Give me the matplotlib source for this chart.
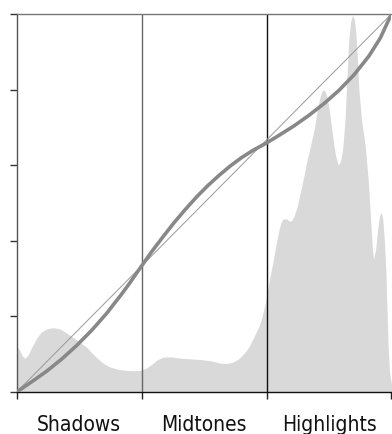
import matplotlib
matplotlib.use("Agg")
import matplotlib.pyplot as plt
from matplotlib import font_manager

# ---- data ----
hist_x = [0.0, 0.008, 0.015, 0.022, 0.03, 0.04, 0.053, 0.065, 0.08, 0.098,
          0.115, 0.13, 0.142, 0.16, 0.175, 0.187, 0.2, 0.212, 0.222, 0.235,
          0.249, 0.27, 0.293, 0.315, 0.329, 0.345, 0.36, 0.375, 0.39, 0.41,
          0.44, 0.49, 0.52, 0.54, 0.557, 0.575, 0.59, 0.60, 0.61, 0.62,
          0.63, 0.64, 0.647, 0.655, 0.664, 0.673, 0.683, 0.692, 0.70, 0.705,
          0.711, 0.72, 0.727, 0.733, 0.74, 0.748, 0.755, 0.765, 0.775, 0.782,
          0.794, 0.802, 0.808, 0.813, 0.818, 0.823, 0.828, 0.834, 0.84, 0.846,
          0.852, 0.858, 0.864, 0.87, 0.876, 0.881, 0.886, 0.891, 0.896, 0.901,
          0.905, 0.909, 0.913, 0.92, 0.93, 0.938, 0.944, 0.949, 0.952, 0.958,
          0.963, 0.968, 0.973, 0.977, 0.981, 0.985, 0.988, 0.991, 0.995, 1.0]
hist_y = [0.122, 0.11, 0.095, 0.089, 0.097, 0.118, 0.142, 0.158, 0.167, 0.170,
          0.167, 0.158, 0.150, 0.138, 0.127, 0.118, 0.104, 0.092, 0.083, 0.073,
          0.066, 0.060, 0.057, 0.056, 0.057, 0.063, 0.073, 0.085, 0.092, 0.093,
          0.089, 0.086, 0.082, 0.077, 0.075, 0.078, 0.086, 0.095, 0.106, 0.12,
          0.14, 0.16, 0.175, 0.20, 0.24, 0.29, 0.34, 0.39, 0.43, 0.448,
          0.458, 0.458, 0.452, 0.453, 0.465, 0.49, 0.52, 0.565, 0.615, 0.643,
          0.696, 0.745, 0.775, 0.792, 0.80, 0.795, 0.78, 0.745, 0.70, 0.655,
          0.62, 0.60, 0.61, 0.645, 0.72, 0.83, 0.93, 0.98, 0.997, 0.985,
          0.95, 0.88, 0.80, 0.72, 0.65, 0.56, 0.46, 0.38, 0.35, 0.38,
          0.43, 0.465, 0.475, 0.455, 0.40, 0.32, 0.22, 0.12, 0.05, 0.02]

curve_x = [0.0, 0.04, 0.08, 0.12, 0.16, 0.20, 0.24, 0.28, 0.30, 0.333,
           0.36, 0.39, 0.42, 0.45, 0.48, 0.51, 0.54, 0.57, 0.60, 0.63,
           0.667, 0.70, 0.74, 0.78, 0.82, 0.86, 0.90, 0.94, 0.97, 1.0]
curve_y = [0.0, 0.027, 0.055, 0.087, 0.123, 0.163, 0.208, 0.259, 0.286, 0.333,
           0.371, 0.410, 0.448, 0.483, 0.516, 0.546, 0.573, 0.598, 0.620, 0.639,
           0.659, 0.679, 0.704, 0.732, 0.763, 0.798, 0.839, 0.889, 0.936, 1.0]

identity = [0.0, 1.0]
zone_edges = [0.0, 1 / 3, 2 / 3, 1.0]
zone_centers = [1 / 6, 1 / 2, 5 / 6]
zone_labels = ["Shadows", "Midtones", "Highlights"]
y_ticks = [0.0, 0.2, 0.4, 0.6, 0.8, 1.0]

fig = plt.figure(figsize=(3.92, 4.35), dpi=100)
ax = fig.add_axes([0.0426, 0.0966, 0.9561, 0.869])

ax.fill_between(hist_x, 0, hist_y, color="#d9d9d9", linewidth=0, zorder=1)
ax.axvline(zone_edges[1], color="#666666", linewidth=1.0, zorder=2)
ax.axvline(zone_edges[2], color="#111111", linewidth=1.0, zorder=2)
ax.plot(identity, identity, color="#999999", linewidth=0.7, zorder=3)
ax.plot(curve_x, curve_y, color="#888888", linewidth=2.6, zorder=4,
        solid_capstyle="round", solid_joinstyle="round")

ax.set_xlim(0, 1)
ax.set_ylim(0, 1)
ax.set_xticks(zone_edges)
ax.set_xticklabels([])
ax.set_xticks(zone_centers, minor=True)
ax.set_xticklabels(zone_labels, minor=True)
ax.set_yticks(y_ticks)
ax.set_yticklabels([])

fp = font_manager.FontProperties(family="DejaVu Sans", stretch="condensed",
                                 weight="light", size=15)
for lab in ax.get_xticklabels(minor=True):
    lab.set_fontproperties(fp)
    lab.set_color("#111111")

ax.tick_params(axis="x", which="major", direction="out", length=5, width=1,
               color="#222222")
ax.tick_params(axis="x", which="minor", length=0, pad=16)
ax.tick_params(axis="y", which="major", direction="out", length=5, width=1,
               color="#333333")

ax.spines["left"].set_color("#555555")
ax.spines["bottom"].set_color("#111111")
ax.spines["top"].set_color("#777777")
ax.spines["right"].set_visible(False)
for s in ["left", "bottom", "top"]:
    ax.spines[s].set_linewidth(1.0)

fig.savefig("out.png", dpi=100)
